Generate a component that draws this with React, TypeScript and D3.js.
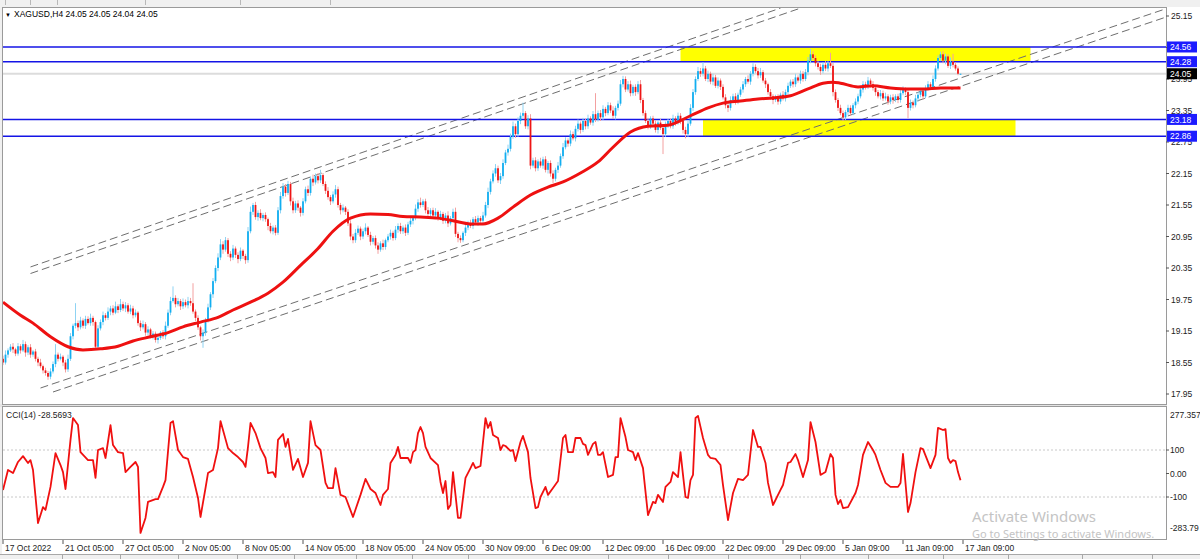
import React from 'react';
import * as d3 from 'd3';

const W = 1200;
const H = 559;

// ---- data ----
const firstOpen = 18.62;
const closes = [
  18.55, 18.70, 18.78, 18.85, 18.80, 18.72, 18.86, 18.78, 18.90, 18.74,
  18.84, 18.70, 18.76, 18.62, 18.55, 18.48, 18.40, 18.35, 18.28, 18.38,
  18.52, 18.70, 18.62, 18.66, 18.55, 18.42, 18.62, 19.05, 19.25, 19.30,
  19.22, 19.35, 19.25, 19.38, 19.30, 19.40, 19.32, 18.85, 19.20, 19.32,
  19.45, 19.40, 19.52, 19.58, 19.50, 19.62, 19.55, 19.66, 19.58, 19.64,
  19.52, 19.58, 19.45, 19.50, 19.30, 19.22, 19.28, 19.12, 19.18, 19.05,
  19.10, 18.98, 19.02, 19.12, 19.05, 19.25, 19.50, 19.72, 19.78, 19.66,
  19.72, 19.62, 19.70, 19.64, 19.72, 19.68, 19.52, 19.40, 19.22, 19.05,
  19.12, 19.35, 19.60, 19.85, 20.10, 20.35, 20.55, 20.80, 20.70, 20.88,
  20.62, 20.55, 20.72, 20.60, 20.52, 20.68, 20.58, 20.50, 21.05, 21.42,
  21.55, 21.32, 21.40, 21.30, 21.36, 21.28, 21.15, 21.05, 21.12, 21.02,
  21.45, 21.72, 21.90, 21.78, 21.95, 21.62, 21.45, 21.58, 21.50, 21.40,
  21.62, 21.85, 21.78, 22.05, 21.98, 22.10, 22.02, 22.12, 21.95, 21.82,
  21.70, 21.62, 21.75, 21.85, 21.55, 21.45, 21.50, 21.42, 21.20, 20.95,
  20.88, 21.02, 21.10, 20.95, 21.05, 21.12, 20.98, 20.85, 20.92, 20.78,
  20.70, 20.82, 20.75, 20.88, 20.95, 21.02, 20.92, 21.08, 21.15, 21.05,
  21.12, 21.02, 21.18, 21.25, 21.30, 21.48, 21.60, 21.55, 21.62, 21.45,
  21.38, 21.45, 21.35, 21.42, 21.30, 21.38, 21.25, 21.35, 21.20, 21.30,
  21.42, 21.00, 20.92, 20.88, 21.02, 21.12, 21.20, 21.15, 21.28, 21.22,
  21.30, 21.25, 21.35, 21.55, 21.80, 22.00, 22.15, 22.25, 22.02, 22.10,
  22.35, 22.55, 22.62, 22.85, 23.05, 22.90, 23.15, 23.25, 23.30, 23.05,
  23.20, 22.30, 22.40, 22.25, 22.38, 22.30, 22.42, 22.22, 22.35, 22.15,
  22.05, 22.22, 22.30, 22.48, 22.65, 22.78, 22.72, 22.90, 22.82, 23.00,
  23.10, 22.98, 23.15, 23.05, 23.20, 23.12, 23.28, 23.18, 23.30, 23.22,
  23.38, 23.30, 23.45, 23.35, 23.25, 23.40, 23.48, 23.85, 23.95, 23.75,
  23.85, 23.68, 23.80, 23.70, 23.85, 23.55, 23.30, 23.15, 23.05, 23.20,
  23.10, 22.98, 23.12, 23.02, 22.90, 23.08, 23.15, 23.05, 23.20, 23.12,
  23.25, 23.15, 22.98, 22.90, 23.10, 23.40, 23.70, 23.95, 24.10, 24.05,
  24.15, 23.95, 24.05, 23.90, 23.98, 23.82, 23.92, 23.80, 23.60, 23.45,
  23.40, 23.55, 23.62, 23.52, 23.65, 23.75, 23.85, 23.95, 23.90, 24.05,
  24.18, 24.10, 24.02, 24.08, 23.92, 23.85, 23.70, 23.62, 23.55, 23.60,
  23.52, 23.65, 23.58, 23.70, 23.82, 23.90, 23.85, 23.98, 23.92, 24.05,
  23.95, 24.08, 24.30, 24.42, 24.35, 24.25, 24.18, 24.10, 24.22, 24.15,
  24.25, 24.20, 23.70, 23.55, 23.40, 23.30, 23.22, 23.32, 23.40, 23.30,
  23.45, 23.52, 23.62, 23.75, 23.85, 23.80, 23.92, 23.85, 23.78, 23.70,
  23.62, 23.68, 23.58, 23.62, 23.52, 23.60, 23.55, 23.62, 23.55, 23.68,
  23.75, 23.70, 23.40, 23.50, 23.45, 23.58, 23.65, 23.72, 23.62, 23.78,
  23.85, 23.80, 23.95, 24.15, 24.35, 24.42, 24.30, 24.38, 24.20, 24.28,
  24.22, 24.15, 24.05, 24.05,
];

// upper / lower wick beyond the body, in cents
const wickUp = [
  6,8,4,5,7,3,6,4,8,5,4,6,3,5,4,7,3,5,4,6,
  5,20,4,6,3,5,8,6,4,38,5,7,4,6,5,8,4,3,6,5,
  7,4,8,5,6,9,4,10,5,6,4,7,5,6,3,5,7,4,6,3,
  5,4,6,3,5,8,6,8,22,5,6,4,7,5,8,6,38,4,5,3,
  6,5,7,4,6,5,8,10,6,6,4,5,7,4,5,6,3,4,8,10,
  4,6,5,7,4,5,3,6,4,5,6,8,7,5,6,4,7,5,6,3,
  6,5,7,4,8,5,6,10,4,5,7,4,6,8,5,4,6,3,5,6,
  5,7,6,4,5,8,3,6,4,5,6,4,7,3,5,6,4,7,5,6,
  4,6,5,7,4,8,6,9,4,5,6,4,5,7,3,6,4,5,8,4,
  6,8,4,5,3,6,5,7,4,6,5,4,7,6,8,5,6,8,5,6,
  7,5,8,6,9,5,7,6,20,4,6,8,5,6,4,7,5,6,4,5,
  6,4,7,5,8,6,4,7,5,6,8,4,6,5,7,4,6,40,5,6,
  7,4,6,5,8,4,6,8,6,5,6,7,4,5,6,8,4,5,6,4,
  5,6,4,7,5,6,4,5,7,4,6,5,4,6,5,7,6,5,8,6,
  12,5,6,4,7,5,6,4,5,6,4,7,5,6,4,5,6,4,7,5,
  7,5,6,8,4,5,3,6,4,5,6,4,7,5,6,4,5,7,4,6,
  5,6,7,10,6,5,4,6,5,7,4,20,6,5,4,6,5,4,6,5,
  4,6,5,7,6,5,7,4,6,5,4,6,5,7,4,5,6,4,5,6,
  6,4,5,6,4,7,5,6,4,5,6,4,7,6,5,5,6,5,4,8,
  15,5,4,0,
];
const wickDown = [
  5,4,6,3,7,5,4,6,3,8,5,6,4,5,7,4,6,5,6,5,
  4,6,5,3,7,6,5,4,6,5,7,4,5,6,3,5,7,6,5,4,
  6,5,4,7,5,3,6,4,5,7,4,5,6,4,5,7,4,6,5,4,
  6,5,7,4,5,6,4,5,3,6,4,7,5,4,6,5,4,6,5,8,
  22,6,4,5,7,4,6,5,8,4,6,7,5,6,8,4,6,7,5,4,
  6,5,7,4,6,5,8,4,6,5,4,6,5,7,4,8,6,5,6,7,
  5,4,6,5,7,4,6,5,4,6,5,7,4,6,5,8,4,6,5,7,
  6,5,4,7,5,6,4,7,5,6,8,4,6,5,4,6,5,4,6,5,
  5,6,4,5,7,4,6,5,4,6,5,7,4,6,5,4,6,5,7,4,
  5,6,8,5,4,6,5,4,6,5,7,4,5,4,6,5,4,6,5,7,
  5,4,6,5,4,7,5,6,4,5,6,7,4,6,5,4,6,5,7,6,
  8,5,6,4,5,4,6,5,4,6,5,7,4,6,5,4,6,5,4,7,
  5,6,4,5,6,7,5,4,6,5,4,6,5,7,4,6,5,4,6,5,
  6,5,7,4,38,5,6,4,5,6,4,6,7,8,5,4,6,5,4,6,
  5,4,6,5,7,4,5,6,4,6,8,5,4,6,5,4,6,5,4,6,
  5,4,6,5,4,7,5,6,8,4,6,5,4,6,5,4,6,5,4,6,
  5,4,6,5,4,6,5,7,4,5,6,4,8,5,6,4,7,5,6,5,
  4,6,5,4,6,5,4,6,5,7,4,6,5,4,6,5,7,4,6,5,
  4,6,20,5,6,4,7,5,6,4,5,4,6,5,4,6,5,7,4,6,
  5,4,3,1,
];

// moving average (read at sample bars)
const maBars = [0, 7, 12, 19, 26, 32, 39, 46, 52, 59, 66, 72, 79, 86, 92, 99, 106, 112, 119, 126, 132, 139, 147, 154, 160, 167, 174, 180, 187, 192, 198, 204, 211, 218, 224, 231, 238, 244, 251, 258, 266, 275, 282, 288, 295, 302, 308, 315, 322, 328, 332, 335, 342, 348, 355, 362, 368, 375, 383];
const maValues = [19.70, 19.45, 19.30, 19.04, 18.85, 18.79, 18.81, 18.86, 18.96, 19.04, 19.12, 19.23, 19.32, 19.41, 19.55, 19.70, 19.87, 20.08, 20.40, 20.72, 21.05, 21.30, 21.38, 21.37, 21.33, 21.32, 21.30, 21.25, 21.19, 21.19, 21.30, 21.51, 21.74, 21.89, 21.99, 22.16, 22.37, 22.65, 22.94, 23.05, 23.07, 23.25, 23.40, 23.49, 23.53, 23.57, 23.59, 23.63, 23.76, 23.87, 23.89, 23.87, 23.80, 23.82, 23.78, 23.76, 23.76, 23.78, 23.78];

// CCI(14)
const cciBars = [0,2,4,6,8,10,11,12,14,16,17,19,21,23,24,25,27,28,30,31,34,36,37,38,40,41,43,44,46,48,49,51,53,54,55,57,58,61,62,64,65,67,68,70,72,74,76,78,79,81,82,84,86,87,90,92,94,96,97,98,99,101,103,105,106,108,109,110,112,113,114,115,116,118,120,122,123,125,127,129,130,132,133,135,137,140,143,145,147,149,151,152,154,155,157,158,159,162,163,164,165,166,167,168,169,171,174,175,176,177,178,179,180,182,183,185,187,188,189,191,193,194,195,196,198,199,200,201,203,204,205,207,208,210,211,213,214,215,217,218,220,222,224,225,226,228,229,231,232,233,234,236,237,238,239,240,242,244,245,246,247,249,250,252,253,254,256,258,260,261,262,264,265,267,268,270,271,272,273,274,275,276,277,278,280,282,283,285,287,288,290,292,294,296,298,300,302,303,305,306,308,311,312,314,315,317,318,320,322,323,325,327,329,331,332,333,334,335,336,338,341,342,344,346,348,349,351,353,355,358,359,360,362,363,365,367,368,371,373,374,376,377,378,379,380,381,382,383];
const cciValues = [-70,15,2,49,74,45,57,15,-211,-143,-155,-57,87,36,6,-66,143,236,206,91,57,57,-19,100,108,66,206,121,91,87,6,28,49,28,-253,-189,-121,-109,-109,-57,-28,215,223,100,70,62,-15,-104,-185,-62,2,15,108,223,108,87,70,49,28,113,215,172,108,66,2,6,-15,143,168,113,147,79,15,62,-15,45,223,121,100,-40,-62,-62,23,-91,-100,-185,-91,-23,-66,-83,-134,-91,-66,45,79,113,66,66,45,91,100,172,198,172,113,66,36,-36,-83,-32,-151,-134,6,-189,-189,-19,23,45,23,32,236,194,219,164,151,100,121,117,96,100,53,134,160,91,-19,-147,-143,-100,-57,-91,-62,-32,151,164,91,91,151,151,126,121,79,126,134,79,79,91,-15,-6,70,70,236,155,100,91,57,87,23,-177,-121,-126,-91,-121,-57,-36,6,-15,91,-6,-100,-104,-28,-6,236,245,151,79,66,62,36,-49,-198,-83,-23,-28,-6,185,113,113,45,-40,-134,-70,-49,45,49,83,57,-15,57,219,134,-6,6,83,66,-91,-130,-113,-147,-143,-83,-49,79,134,100,79,15,-40,-57,-57,-40,83,-164,-126,6,108,104,23,79,194,185,189,66,45,57,53,6,-28.57];

const timeLabels = ['17 Oct 2022', '21 Oct 05:00', '27 Oct 05:00', '2 Nov 05:00', '8 Nov 05:00', '14 Nov 05:00', '18 Nov 05:00', '24 Nov 05:00', '30 Nov 09:00', '6 Dec 09:00', '12 Dec 09:00', '16 Dec 09:00', '22 Dec 09:00', '29 Dec 09:00', '5 Jan 09:00', '11 Jan 09:00', '17 Jan 09:00'];
const barsPerLabel = 24;
const priceTicks = [25.15, 24.55, 23.95, 23.35, 22.75, 22.15, 21.55, 20.95, 20.35, 19.75, 19.15, 18.55, 17.95];
const levels = [24.56, 24.28, 23.18, 22.86];
const bidPrice = 24.05;
const cciLevels = [100, -100];
const cciTickLabels = ['100', '0.00', '-100'];
const cciTickValues = [100, 0, -100];
const cciMax = '277.357';
const cciMin = '-283.79';
// trend channel lines: [bar1, price1, bar2, price2]
const channelLines = [
  [11, 20.37, 311, 25.30],
  [11, 20.245, 319, 25.30],
  [15, 18.064, 465, 25.285],
  [20, 17.988, 465, 25.126],
];
// rectangles: [barFrom, barTo, priceTop, priceBottom]
const zones = [
  [271, 411, 24.56, 24.28],
  [280, 405, 23.18, 22.86],
];

const FONT = 'Liberation Sans, Arial, sans-serif';
const BULL = '#12aef0';
const BULL_W = '#8fd3f3';
const BEAR = '#ee1515';
const BEAR_W = '#f3a0a0';

export default function App() {
  const L = 3, R = 1166, T = 8, B = 404;
  const CT = 407, CB = 540;
  const x = d3.scaleLinear().domain([0, 383]).range([3, 960.5]);
  const y = d3.scaleLinear().domain([17.95, 25.15]).range([394, 16]);
  const yc = d3.scaleLinear().domain([-100, 100]).range([497, 450]);

  const bars = closes.map((c, i) => {
    const o = i === 0 ? firstOpen : closes[i - 1];
    const hi = Math.max(o, c) + (wickUp[i] ?? 0) / 100;
    const lo = Math.min(o, c) - (wickDown[i] ?? 0) / 100;
    return { i, o, c, hi, lo };
  });

  const maLine = d3.line<number>()
    .x((_, k) => x(maBars[k]))
    .y((v) => y(v))
    .curve(d3.curveMonotoneX);
  const cciLine = d3.line<number>()
    .x((_, k) => x(cciBars[k]))
    .y((v) => yc(v));

  return (
    <svg width={W} height={H} style={{ position: 'absolute', left: 0, top: 0, background: '#fff' }} fontFamily={FONT}>
      <defs>
        <clipPath id="mainClip"><rect x={L} y={T} width={R - L} height={B - T} /></clipPath>
        <clipPath id="cciClip"><rect x={L} y={CT} width={R - L} height={CB - CT} /></clipPath>
      </defs>
      {/* window chrome */}
      <rect x={0} y={0} width={W} height={7} fill="#f0f0f0" />
      {[5, 30, 57, 145, 240, 330].map((v) => (
        <line key={v} x1={v + 0.5} x2={v + 0.5} y1={0} y2={5} stroke="#b8b8b8" />
      ))}
      <rect x={0} y={7} width={2} height={547} fill="#f0f0f0" />
      <rect x={0} y={404} width={R + 1} height={3} fill="#e4e4e4" />

      {/* main panel */}
      <g clipPath="url(#mainClip)">
        {zones.map((z, k) => (
          <rect key={k} x={x(z[0])} y={y(z[2])} width={x(z[1]) - x(z[0])} height={y(z[3]) - y(z[2])} fill="#ffff00" />
        ))}
        <line x1={L} x2={R} y1={y(bidPrice)} y2={y(bidPrice)} stroke="#dcdcdc" strokeWidth={2} />
        {channelLines.map((c, k) => (
          <line key={k} x1={x(c[0])} y1={y(c[1])} x2={x(c[2])} y2={y(c[3])} stroke="#6e6e6e" strokeWidth={1} strokeDasharray="8,4" />
        ))}
        {levels.map((p) => (
          <line key={p} x1={L} x2={R} y1={y(p)} y2={y(p)} stroke="#1414e6" strokeWidth={1.5} />
        ))}
        {bars.map((b) => {
          const up = b.c >= b.o;
          const cx = x(b.i);
          const top = y(Math.max(b.o, b.c));
          const bot = y(Math.min(b.o, b.c));
          return (
            <g key={b.i}>
              <line x1={cx} x2={cx} y1={y(b.hi)} y2={y(b.lo)} stroke={up ? BULL_W : BEAR_W} strokeWidth={1} />
              <rect x={cx - 0.9} y={top} width={1.8} height={Math.max(1, bot - top)} fill={up ? BULL : BEAR} />
            </g>
          );
        })}
        <path d={maLine(maValues) || ''} fill="none" stroke="#ee1111" strokeWidth={3} strokeLinejoin="round" />
      </g>
      <rect x={L - 0.5} y={T - 0.5} width={R - L + 1} height={B - T + 1} fill="none" stroke="#9a9a9a" />
      <text x={14} y={17} fontSize={8.5} fill="#000">XAGUSD,H4  24.05 24.05 24.04 24.05</text>
      <text x={5} y={16.5} fontSize={6} fill="#000">▼</text>

      {/* price axis */}
      {priceTicks.map((p) => (
        <g key={p}>
          <line x1={R} x2={R + 3} y1={y(p)} y2={y(p)} stroke="#555" />
          <text x={R + 5} y={y(p) + 3} fontSize={8.5} fill="#222">{p.toFixed(2)}</text>
        </g>
      ))}
      {levels.map((p) => (
        <g key={p}>
          <rect x={R + 1} y={y(p) - 5.5} width={30} height={11} fill="#1c1cff" />
          <text x={R + 4} y={y(p) + 3.2} fontSize={8.5} fill="#fff">{p.toFixed(2)}</text>
        </g>
      ))}
      <rect x={R + 1} y={y(bidPrice) - 5.5} width={30} height={11} fill="#000" />
      <text x={R + 4} y={y(bidPrice) + 3.2} fontSize={8.5} fill="#fff">{bidPrice.toFixed(2)}</text>

      {/* CCI panel */}
      <g clipPath="url(#cciClip)">
        {cciLevels.map((v) => (
          <line key={v} x1={L} x2={R} y1={yc(v)} y2={yc(v)} stroke="#c8c8c8" strokeDasharray="2,2" />
        ))}
        <path d={cciLine(cciValues) || ''} fill="none" stroke="#f01010" strokeWidth={1.8} strokeLinejoin="round" />
      </g>
      <rect x={L - 0.5} y={CT - 0.5} width={R - L + 1} height={CB - CT} fill="none" stroke="#9a9a9a" />
      <text x={6} y={418} fontSize={8.5} fill="#222">CCI(14) -28.5693</text>
      <text x={R + 4} y={418} fontSize={8.5} fill="#222">{cciMax}</text>
      <text x={R + 4} y={531} fontSize={8.5} fill="#222">{cciMin}</text>
      {cciTickValues.map((v, k) => (
        <g key={v}>
          <line x1={R} x2={R + 3} y1={yc(v)} y2={yc(v)} stroke="#555" />
          <text x={R + 4} y={yc(v) + 3} fontSize={8.5} fill="#222">{cciTickLabels[k]}</text>
        </g>
      ))}
      <text x={972} y={522} fontSize={15} fill="#c4c4c4" fontFamily="Noto Sans, sans-serif">Activate Windows</text>
      <text x={972} y={538} fontSize={11} fill="#c4c4c4" fontFamily="Noto Sans, sans-serif">Go to Settings to activate Windows.</text>

      {/* time axis */}
      {timeLabels.map((t, k) => {
        const xx = x(k * barsPerLabel);
        return (
          <g key={t}>
            <line x1={xx} x2={xx} y1={CB} y2={CB + 4} stroke="#555" />
            <text x={xx + 2} y={551} fontSize={8.5} fill="#222">{t}</text>
          </g>
        );
      })}

      {/* bottom tab strip */}
      <rect x={0} y={554} width={W} height={5} fill="#f0f0f0" />
      <line x1={0} x2={W} y1={554.5} y2={554.5} stroke="#a8a8a8" />
      {[62, 120, 178, 237, 294, 356, 412, 468, 608, 668, 728, 800, 868, 943, 1008, 1082, 1152].map((v) => (
        <line key={v} x1={v + 0.5} x2={v + 0.5} y1={555} y2={559} stroke="#a8a8a8" />
      ))}
    </svg>
  );
}
